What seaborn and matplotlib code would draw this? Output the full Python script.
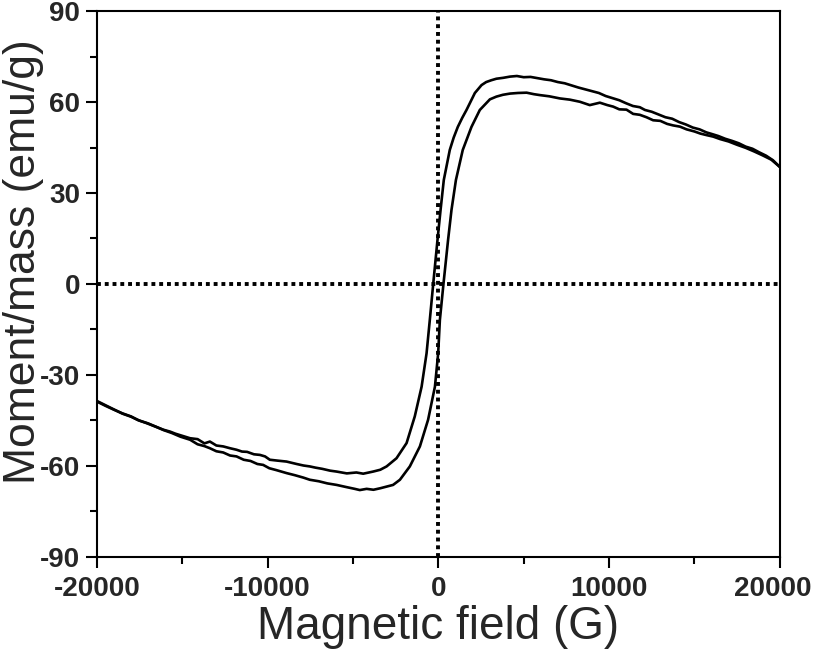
import numpy as np
import pandas as pd
import matplotlib
matplotlib.use("Agg")
import matplotlib.pyplot as plt
import matplotlib.transforms as mtransforms
from matplotlib.ticker import MultipleLocator
import seaborn as sns

# Descending branch (+20000 G -> -20000 G)
field_down = [20000, 19600, 19200, 18800, 18400, 18000, 17600, 17200, 16800, 16400,
              16000, 15700, 15300, 14900, 14500, 14100, 13700, 13300, 12900, 12500,
              12100, 11800, 11400, 11000, 10600, 10200, 9800, 9400, 9000, 8600,
              8200, 7800, 7400, 7000, 6600, 6200, 5800, 5400, 5000, 4600,
              4200, 3800, 3400, 3100, 2800, 2530, 2140, 1650, 1400, 1140,
              900, 670, 320, 130, -50, -300, -500, -690, -980, -1380,
              -1860, -2450, -3030, -3400, -3820, -4400, -4800, -5360, -5960, -6340,
              -6800, -7200, -7530, -7900, -8300, -8890, -9400, -9870, -10150, -10450,
              -10800, -11200, -11500, -11820, -12200, -12600, -13000, -13380, -13700, -14100,
              -14540, -15000, -15400, -15720, -16100, -16600, -17100, -17600, -18000, -18500,
              -19000, -19500, -20000]
moment_down = [38.6, 40.8, 42.3, 43.4, 44.6, 45.3, 46.4, 47.2, 47.9, 48.8,
               49.5, 50.0, 51.0, 51.6, 52.6, 53.4, 54.5, 55.0, 55.9, 56.8,
               57.4, 58.3, 58.7, 59.6, 60.6, 61.3, 62.0, 63.0, 63.6, 64.2,
               64.8, 65.5, 66.2, 66.6, 67.2, 67.5, 67.9, 68.3, 68.2, 68.6,
               68.4, 68.0, 67.7, 67.2, 66.6, 65.6, 63.0, 57.4, 54.8, 51.8,
               48.3, 44.2, 34.3, 24.4, 14.5, 0.0, -11.9, -22.9, -33.9, -43.7,
               -52.5, -57.5, -60.2, -61.3, -61.9, -62.6, -62.2, -62.5, -61.9, -61.6,
               -61.0, -60.6, -60.2, -59.9, -59.4, -58.6, -58.3, -58.0, -56.9, -56.4,
               -56.2, -55.4, -55.3, -54.7, -54.2, -53.6, -53.3, -52.0, -52.6, -51.2,
               -50.9, -50.1, -49.4, -48.7, -48.1, -47.0, -45.9, -44.9, -43.7, -42.7,
               -41.5, -40.2, -38.8]

# Ascending branch (-20000 G -> +20000 G)
field_up = [-20000, -19500, -19000, -18500, -18000, -17500, -17000, -16500, -16100, -15600,
            -15100, -14540, -14100, -13700, -13380, -13000, -12600, -12200, -11820, -11400,
            -11000, -10600, -10260, -9900, -9500, -8890, -8400, -7900, -7530, -7000,
            -6500, -5960, -5400, -4900, -4600, -4200, -3800, -3400, -2650, -2250,
            -1670, -1080, -600, -200, -10, 90, 300, 570, 770, 1030,
            1430, 1940, 2430, 3020, 3400, 3780, 4200, 4660, 5170, 5600,
            5950, 6500, 7120, 7700, 8290, 8870, 9460, 9900, 10240, 10600,
            11020, 11410, 11800, 12190, 12580, 13000, 13400, 13750, 14150, 14540,
            15000, 15350, 15710, 16100, 16500, 17000, 17500, 18000, 18500, 19000,
            19500, 20000]
moment_up = [-38.6, -40.0, -41.4, -42.8, -43.8, -45.1, -46.0, -47.2, -48.2, -49.2,
             -50.4, -51.4, -52.9, -53.5, -54.2, -55.2, -55.6, -56.6, -56.9, -58.0,
             -58.4, -59.4, -59.7, -60.8, -61.4, -62.4, -63.1, -63.9, -64.6, -65.1,
             -65.8, -66.3, -67.0, -67.6, -68.0, -67.6, -67.9, -67.4, -66.3, -64.6,
             -60.2, -53.6, -44.8, -33.9, -22.9, -11.9, 0.0, 14.5, 24.4, 34.3,
             44.2, 51.8, 57.4, 60.9, 61.8, 62.4, 62.8, 63.0, 63.1, 62.6,
             62.3, 61.9, 61.2, 60.8, 60.1, 59.0, 59.8, 59.0, 58.5, 57.6,
             57.5, 56.1, 55.8, 55.0, 54.0, 53.8, 52.8, 52.3, 51.9, 51.0,
             50.3, 49.6, 49.1, 48.6, 47.8, 47.0, 45.9, 44.9, 43.7, 42.4,
             41.0, 38.6]

x_ticks = [-20000, -10000, 0, 10000, 20000]
y_ticks = [-90, -60, -30, 0, 30, 60, 90]

sns.set_theme(style="ticks")
plt.rcParams["font.family"] = ["Liberation Sans", "DejaVu Sans"]
plt.rcParams["axes.unicode_minus"] = False

down = pd.DataFrame({"field": field_down, "moment": moment_down})
up = pd.DataFrame({"field": field_up, "moment": moment_up})

fig = plt.figure(figsize=(8.14, 6.55), dpi=100)
ax = fig.add_axes([0.119, 0.150, 0.839, 0.833])

# dotted zero lines
ax.axhline(0, color="black", lw=2.8, ls=(0, (1, 1)), zorder=1)
ax.axvline(0, color="black", lw=2.8, ls=(0, (1, 1)), zorder=1)

sns.lineplot(data=down, x="field", y="moment", sort=False, estimator=None,
             color="black", lw=1.9, ax=ax, zorder=3)
sns.lineplot(data=up, x="field", y="moment", sort=False, estimator=None,
             color="black", lw=1.9, ax=ax, zorder=3)

ax.set_xlim(-20000, 20000)
ax.set_ylim(-90, 90)
ax.set_xticks(x_ticks)
ax.set_yticks(y_ticks)
ax.xaxis.set_minor_locator(MultipleLocator(5000))
ax.yaxis.set_minor_locator(MultipleLocator(15))

ax.tick_params(which="major", direction="out", length=8, width=1.5, color="black",
               labelsize=20, pad=4)
ax.tick_params(which="minor", direction="out", length=5, width=1.5, color="black")
ax.tick_params(axis="x", which="major", pad=6)
for lab in ax.get_xticklabels() + ax.get_yticklabels():
    lab.set_fontweight("bold")

# nudge the last x label so it stays inside the figure
last = ax.get_xticklabels()[-1]
last.set_transform(last.get_transform() +
                   mtransforms.ScaledTranslation(-0.07, 0, fig.dpi_scale_trans))

for sp in ax.spines.values():
    sp.set_visible(True)
    sp.set_color("black")
    sp.set_linewidth(1.5)

ax.set_xlabel("Magnetic field (G)", fontsize=33, labelpad=2)
ax.set_ylabel("Moment/mass (emu/g)", fontsize=32)
ax.yaxis.set_label_coords(-0.078, 0.54)

fig.savefig("out.png", dpi=100)
